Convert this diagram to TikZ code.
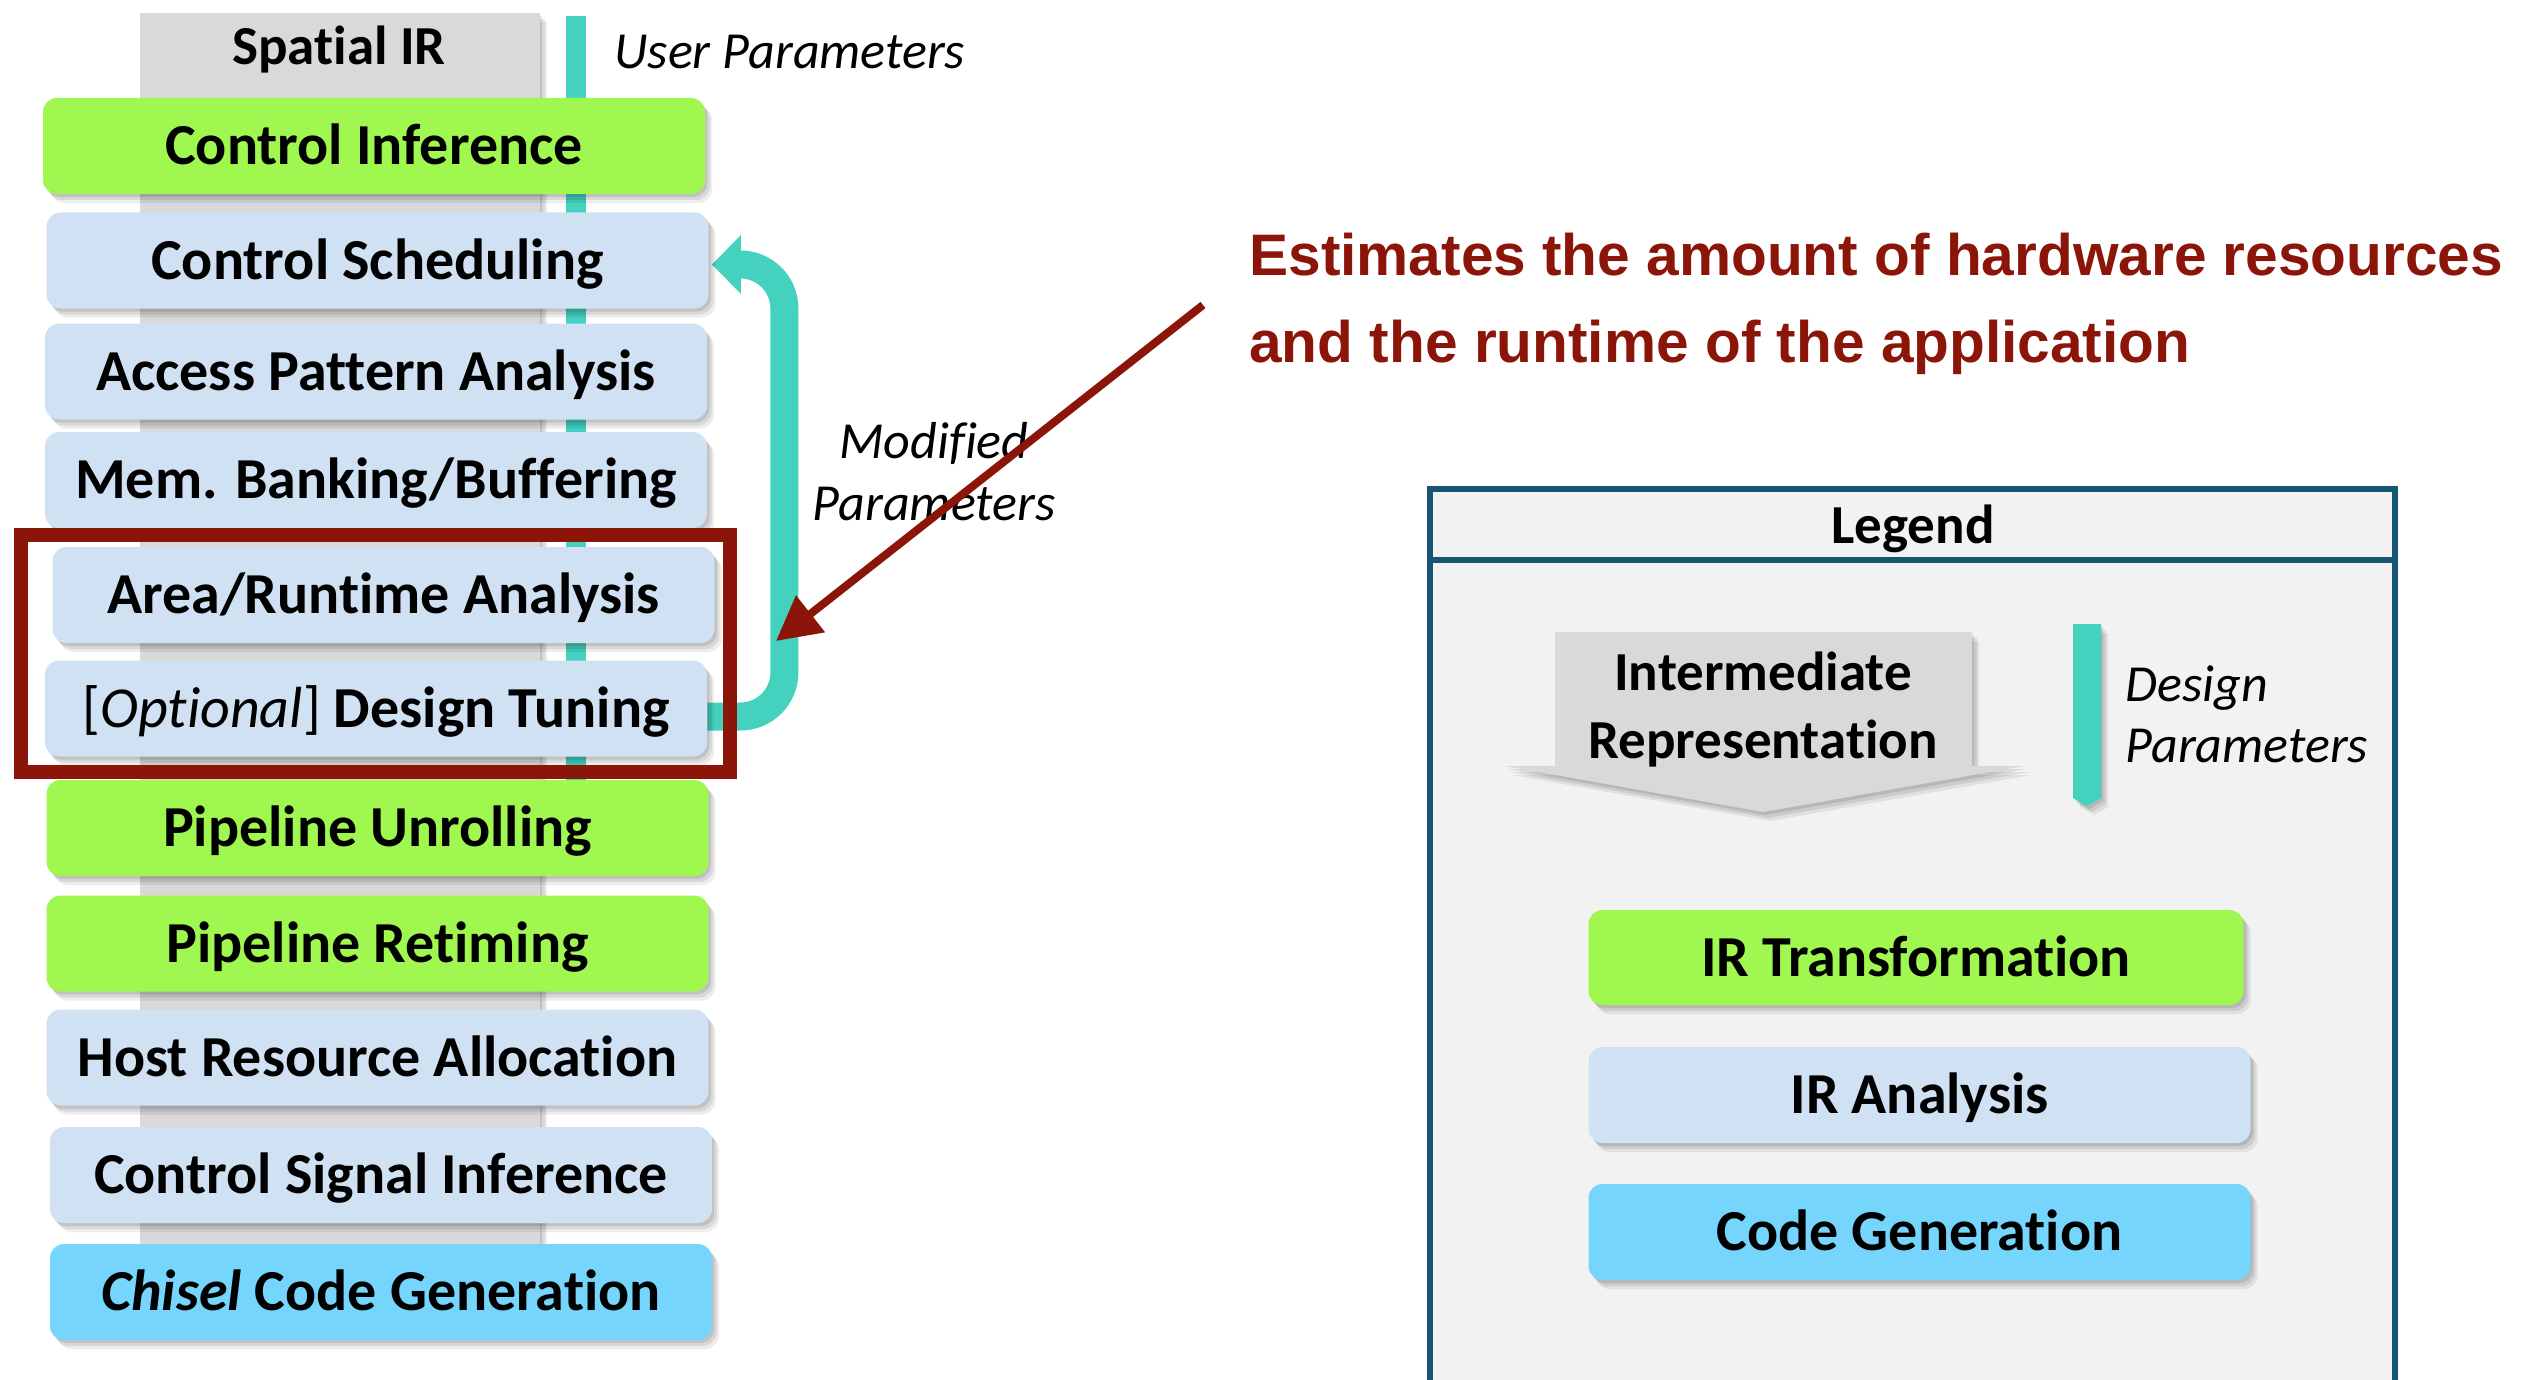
\documentclass[tikz,border=0pt]{standalone}
\usepackage{fontspec}
\setmainfont{Carlito}[Ligatures=NoCommon]
\newfontfamily\headfont{Liberation Sans}
\usetikzlibrary{shadows,arrows.meta,backgrounds}

\definecolor{stagegray}{HTML}{D9D9D9}
\definecolor{xformgreen}{HTML}{A0F74F}
\definecolor{anablue}{HTML}{CFE1F3}
\definecolor{genblue}{HTML}{76D5FC}
\definecolor{paramteal}{HTML}{44D1BE}
\definecolor{notered}{HTML}{8A1508}
\definecolor{legendline}{HTML}{165674}
\definecolor{legendbg}{HTML}{F2F2F2}

\newcommand\stagefont{\fontsize{29pt}{34pt}\selectfont\bfseries}
\newcommand\irfont{\fontsize{27.5pt}{32pt}\selectfont\bfseries}
\newcommand\paramfont{\fontsize{26pt}{30pt}\selectfont\itshape}
\newcommand\notefont{\headfont\fontsize{29.3pt}{34pt}\selectfont\bfseries}

\begin{document}
\begin{tikzpicture}[x=0.5pt,y=-0.5pt,
  softshadow/.style={
    drop shadow={shadow xshift=1.2pt,shadow yshift=-1.5pt,fill=black,opacity=0.10},
    drop shadow={shadow xshift=2.4pt,shadow yshift=-3pt,fill=black,opacity=0.09},
    drop shadow={shadow xshift=3.6pt,shadow yshift=-4.5pt,fill=black,opacity=0.07}},
  stage/.style={softshadow, rounded corners=7pt, minimum width=331pt,
    minimum height=48pt, inner sep=0pt, font=\stagefont,
    text height=18.7pt, text depth=0pt},
  xform/.style={stage, fill=xformgreen},
  anal/.style={stage, fill=anablue},
  codegen/.style={stage, fill=genblue},
  paramtext/.style={font=\paramfont, inner sep=0pt},
  notetext/.style={font=\notefont, text=notered, inner sep=0pt, anchor=base west},
  legendlabel/.style={font=\irfont, inner sep=0pt, anchor=base}]

\useasboundingbox (0,0) rectangle (2531,1380);
\clip (0,0) rectangle (2531,1380);

% ---------------- compiler pass stack ----------------
\node[xform]   (ci)  at (374,146)    {Control Inference};
\node[anal]    (cs)  at (377.5,260.5) {Control Scheduling};
\node[anal]    (apa) at (376,371.5)  {Access Pattern Analysis};
\node[anal]    (mbb) at (376,480)    {Mem. Banking/Buffering};
\node[anal]    (ara) at (383.5,595)  {Area/Runtime Analysis};
\node[anal]    (dt)  at (376,708.5)  {{\mdseries[\textit{Optional}]} Design Tuning};
\node[xform]   (pu)  at (377.5,828)  {Pipeline Unrolling};
\node[xform]   (pr)  at (377.5,943.5) {Pipeline Retiming};
\node[anal]    (hra) at (377.5,1057.5) {Host Resource Allocation};
\node[anal]    (csi) at (381,1175)   {Control Signal Inference};
\node[codegen] (ccg) at (381,1292)   {\textit{Chisel} Code Generation};

\begin{pgfonlayer}{background}
  % IR spine and user parameter bar behind the passes
  \fill[stagegray, softshadow] (140,13) rectangle (540,1300);
  \fill[paramteal] (566,16) rectangle (586,790);
  % feedback loop of tuned parameters
  \draw[paramteal, line width=14pt, rounded corners=22pt,
        -{Triangle[length=14.5pt,width=28.5pt]}]
    ([yshift=-4pt]dt.east) -- ++(77,0) |- ([xshift=1.5pt,yshift=-2pt]cs.east);
\end{pgfonlayer}

\node[legendlabel] (spatial) at (339,65) {Spatial IR};
\node[paramtext, anchor=base west] (userp) at (614,69) {User Parameters};

\node[paramtext, anchor=base] (mod1) at (934,458) {Modified};
\node[paramtext, anchor=base] (mod2) at (934,520) {Parameters};

% highlighted estimation passes
\draw[notered, line width=6.75pt] (21,535) rectangle (730,772);

% annotation
\node[notetext] (note1) at (1249,276) {Estimates the amount of hardware resources};
\node[notetext] (note2) at (1249,362) {and the runtime of the application};
\coordinate (notetail) at (1203,305);
\coordinate (notehead) at (776,641);
\draw[notered, line width=4pt, -{Triangle[length=22pt,width=22.5pt]}]
  (notetail) -- (notehead);

% ---------------- legend ----------------
\fill[legendbg] (1430,489) rectangle (2395,1400);
\draw[legendline, line width=3pt] (1430,1400) -- (1430,489) -- (2395,489) -- (2395,1400);
\draw[legendline, line width=3pt] (1430,560) -- (2395,560);
\node[legendlabel] (legend) at (1913,543) {Legend};

\fill[stagegray, softshadow] (1555,632) -- (1972,632) -- (1972,766) -- (2024,766)
  -- (1763,812) -- (1505,766) -- (1555,766) -- cycle;
\node[legendlabel] (irl1) at (1763,690) {Intermediate};
\node[legendlabel] (irl2) at (1763,758) {Representation};

\fill[paramteal, softshadow] (2073,624) -- (2101,624) -- (2101,798) -- (2087,806)
  -- (2073,798) -- cycle;
\node[paramtext, anchor=base west] (dp1) at (2125,701) {Design};
\node[paramtext, anchor=base west] (dp2) at (2125,762) {Parameters};

\node[xform, minimum width=327.5pt, minimum height=47.5pt] (lgx) at (1916,957.5) {IR Transformation};
\node[anal] (lga) at (1919.5,1095) {IR Analysis};
\node[codegen] (lgc) at (1919.5,1232) {Code Generation};

\end{tikzpicture}
\end{document}
